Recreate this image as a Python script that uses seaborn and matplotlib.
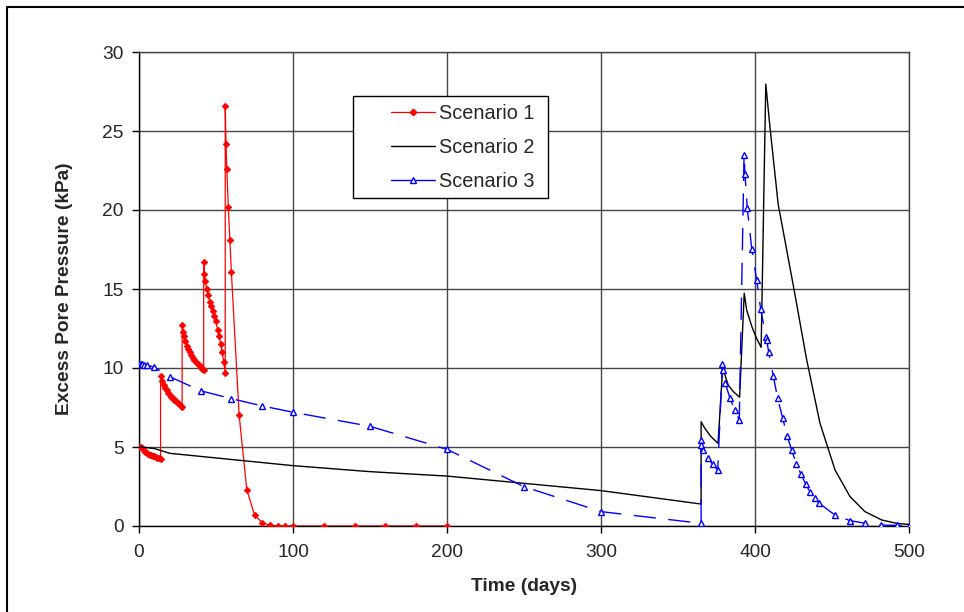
import matplotlib.pyplot as plt
import matplotlib.lines as mlines
import matplotlib.patches as mpatches
import pandas as pd
import seaborn as sns

# Scenario 1: four staged loads every 14 days, then dissipation
s1_days = [0, 1, 2, 3, 4, 5, 6, 7, 8, 9, 10, 11, 12, 13, 14,
           14, 15, 16, 17, 18, 19, 20, 21, 22, 23, 24, 25, 26, 27, 28,
           28, 28.5, 29, 30, 31, 32, 33, 34, 35, 36, 37, 38, 39, 40, 41, 42,
           42, 42.5, 43, 44, 45, 46, 47, 48, 49, 50, 51, 52, 53, 54, 55, 56,
           56, 56.5, 57, 58, 59, 60, 65, 70, 75, 80, 85, 90, 95, 100,
           120, 140, 160, 180, 200]
s1_kpa = [5.02, 5.0, 4.95, 4.8, 4.68, 4.62, 4.57, 4.52, 4.48, 4.44, 4.4, 4.36, 4.32, 4.28, 4.25,
          9.5, 9.15, 8.95, 8.75, 8.58, 8.43, 8.3, 8.18, 8.07, 7.97, 7.88, 7.79, 7.7, 7.62, 7.55,
          12.75, 12.3, 12.0, 11.68, 11.42, 11.2, 11.0, 10.82, 10.66, 10.52, 10.4, 10.28, 10.16,
          10.05, 9.95, 9.85,
          16.7, 15.95, 15.5, 14.98, 14.6, 14.2, 13.9, 13.6, 13.3, 12.95, 12.4, 12.0, 11.5,
          11.0, 10.4, 9.7,
          26.6, 24.2, 22.6, 20.2, 18.1, 16.05, 7.05, 2.3, 0.7, 0.2, 0.05, 0.01, 0, 0,
          0, 0, 0, 0, 0]

# Scenario 2
s2_days = [0, 10, 20, 100, 150, 200, 300, 365,
           365, 367, 371, 376,
           379, 382.6, 386, 390,
           393, 394.6, 398, 401, 404,
           407, 409.7, 415, 425, 433.6, 442.2, 452, 461.7, 471.4, 482.3, 492, 500]
s2_kpa = [5.02, 4.9, 4.6, 3.82, 3.44, 3.16, 2.24, 1.39,
          6.6, 6.25, 5.7, 5.23,
          10.0, 8.92, 8.5, 8.15,
          14.73, 13.67, 12.61, 11.88, 11.31,
          27.97, 25.27, 20.4, 15.15, 10.5, 6.5, 3.54, 1.86, 0.91, 0.38, 0.17, 0.1]

# Scenario 3
s3_days = [0, 1, 2, 3, 5, 10, 20, 40, 60, 80, 100, 150, 200, 250, 300, 365,
           365, 365.2, 366.4, 369.7, 372.5, 375.8,
           378.8, 379.1, 380.7, 383.8, 386.8, 389.8,
           392.9, 393.5, 395, 397.9, 401.1, 403.7, 407.1, 407.6, 408.9, 411.9,
           414.7, 418, 420.8, 423.8, 426.8, 429.9, 432.9, 435.7, 438.8, 441.8,
           451.8, 461.7, 471.6, 481.8, 492, 500]
s3_kpa = [10.25, 10.27, 10.25, 10.22, 10.2, 10.05, 9.45, 8.56, 8.06, 7.6, 7.2, 6.31,
          4.85, 2.49, 0.91, 0.17,
          5.44, 5.13, 4.81, 4.28, 3.9, 3.54,
          10.25, 9.87, 9.03, 8.08, 7.34, 6.71,
          23.48, 22.28, 20.1, 17.53, 15.57, 13.71, 11.98, 11.77, 10.99, 9.49,
          8.08, 6.82, 5.72, 4.81, 3.94, 3.27, 2.66, 2.15, 1.77, 1.43,
          0.70, 0.34, 0.17, 0.06, 0.04, 0.02]

series_names = ["Scenario 1", "Scenario 2", "Scenario 3"]
x_ticks = [0, 100, 200, 300, 400, 500]
y_ticks = [0, 5, 10, 15, 20, 25, 30]

sns.set_style("ticks")
plt.rcParams["font.family"] = ["Liberation Sans", "DejaVu Sans"]
FS = 13.8
GRID = "#454545"

W, H = 964, 612
fig = plt.figure(figsize=(W / 100, H / 100), dpi=100)
ax = fig.add_axes([139 / W, 1 - 526 / H, (909 - 139) / W, (526 - 52) / H])

df1 = pd.DataFrame({"day": s1_days, "kpa": s1_kpa})
df2 = pd.DataFrame({"day": s2_days, "kpa": s2_kpa})
df3 = pd.DataFrame({"day": s3_days, "kpa": s3_kpa})

sns.lineplot(data=df1, x="day", y="kpa", estimator=None, sort=False, ax=ax,
             color="#ff0000", linewidth=0.9, marker="D", markersize=3.3,
             markeredgecolor="#ff0000", markeredgewidth=0.6, zorder=3)
sns.lineplot(data=df2, x="day", y="kpa", estimator=None, sort=False, ax=ax,
             color="black", linewidth=1.0, zorder=3)
sns.lineplot(data=df3, x="day", y="kpa", estimator=None, sort=False, ax=ax,
             color="#0000ff", linewidth=1.0, linestyle=(0, (16, 9)),
             marker="^", markersize=4.6, markerfacecolor="white",
             markeredgecolor="#0000ff", markeredgewidth=1.0, zorder=4)

ax.set_xlim(0, 500)
ax.set_ylim(0, 30)
ax.set_xticks(x_ticks)
ax.set_yticks(y_ticks)
ax.tick_params(axis="both", direction="out", length=5, width=1, color="black",
               labelsize=FS, pad=6)
ax.tick_params(axis="x", pad=8)
ax.grid(True, color=GRID, linewidth=1.0)
ax.set_axisbelow(True)
for side in ["left", "bottom"]:
    ax.spines[side].set_color("black")
    ax.spines[side].set_linewidth(1.0)
for side in ["top", "right"]:
    ax.spines[side].set_color(GRID)
    ax.spines[side].set_linewidth(1.0)

ax.set_xlabel("Time (days)", fontsize=FS, fontweight="bold", labelpad=12)
ax.set_ylabel("Excess Pore Pressure (kPa)", fontsize=FS, fontweight="bold",
              labelpad=21)

# legend: handles without frame, box drawn separately underneath
handles = [
    mlines.Line2D([], [], color="#ff0000", linewidth=0.9, marker="D",
                  markersize=3.3, markeredgecolor="#ff0000"),
    mlines.Line2D([], [], color="black", linewidth=1.0),
    mlines.Line2D([], [], color="#0000ff", linewidth=1.0, marker="^",
                  markersize=4.6, markerfacecolor="white", markeredgecolor="#0000ff"),
]
box = mpatches.Rectangle((353 / W, 1 - 198 / H), (548 - 353) / W, (198 - 96) / H,
                         transform=fig.transFigure, facecolor="white",
                         edgecolor="black", linewidth=1.0, zorder=5, clip_on=False)
ax.add_patch(box)
leg = ax.legend(handles, series_names, loc="upper left",
                bbox_to_anchor=(391 / W, 1 - 104 / H), bbox_transform=fig.transFigure,
                frameon=False, fontsize=14.3, handlelength=2.2, handletextpad=0.2,
                labelspacing=0.76, borderpad=0, borderaxespad=0)
leg.set_zorder(6)

# outer chart frame (left and top edges)
fig.add_artist(mlines.Line2D([7 / W, 7 / W, 1.02], [-0.02, 1 - 7 / H, 1 - 7 / H],
                             transform=fig.transFigure, color="black",
                             linewidth=1.5))

fig.savefig("out.png", dpi=100)
